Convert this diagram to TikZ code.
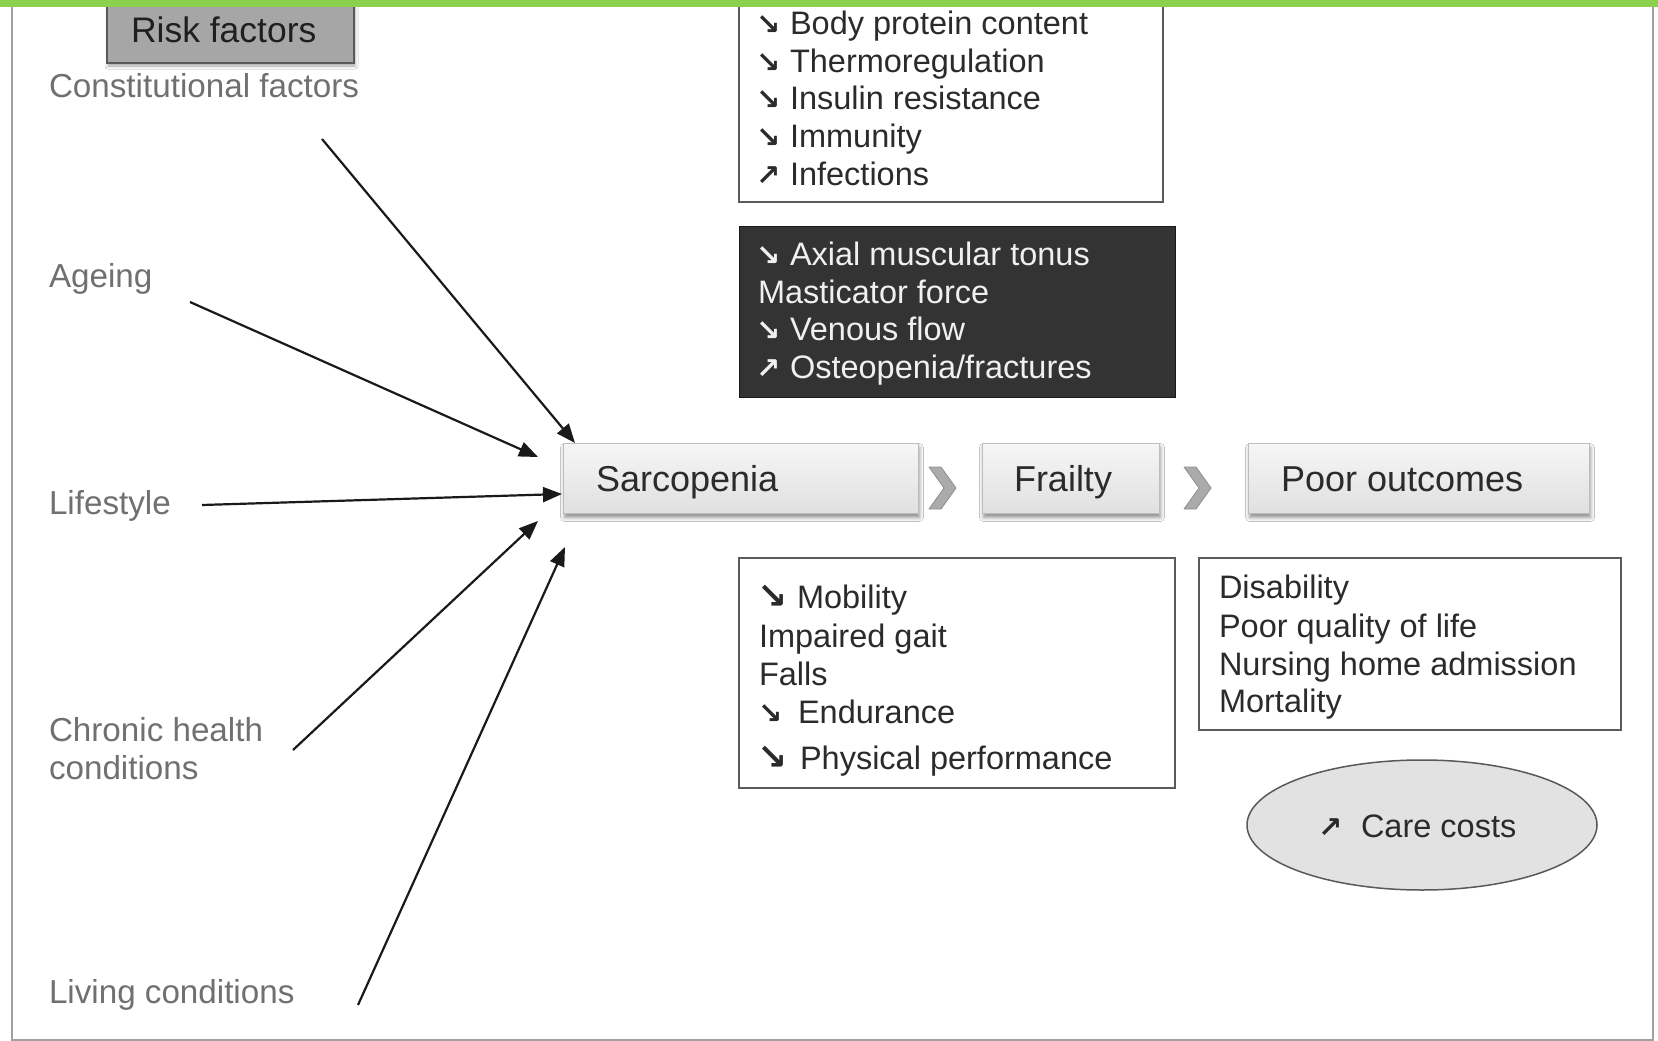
\documentclass[tikz,border=0pt]{standalone}
\usepackage{fontspec}
\setmainfont{Liberation Sans}
\newfontfamily\arrfont{DejaVu Sans}
\usetikzlibrary{arrows.meta,shadows,shadows.blur,shapes.geometric}
\definecolor{greenbar}{HTML}{8BD14E}
\definecolor{framec}{HTML}{A0A0A0}
\definecolor{lblgray}{HTML}{707070}
\definecolor{txtdark}{HTML}{2B2B2B}
\definecolor{boxtop}{HTML}{F6F6F6}
\definecolor{boxbot}{HTML}{E0E0E0}
\definecolor{boxedge}{HTML}{BDBDBD}
\definecolor{listedge}{HTML}{5A5A5A}
\definecolor{darkfill}{HTML}{333333}
\definecolor{riskfill}{HTML}{A6A6A6}
\definecolor{chevfill}{HTML}{ABABAB}
\definecolor{chevedge}{HTML}{8E8E8E}
\definecolor{arrowc}{HTML}{1A1A1A}
\definecolor{carefill}{HTML}{E2E2E2}
\newcommand\dnar{\makebox[34pt][l]{\arrfont\bfseries\fontsize{29}{29}\selectfont ↘}}
\newcommand\upar{\makebox[34pt][l]{\arrfont\bfseries\fontsize{29}{29}\selectfont ↗}}
\newcommand\dnthin{\makebox[40pt][l]{\arrfont\bfseries\fontsize{29}{29}\selectfont ↘}}
\newcommand\dnbold{\makebox[40pt][l]{\arrfont\bfseries\fontsize{36}{36}\selectfont ↘}}
\newcommand\dnboldb{\makebox[43pt][l]{\arrfont\bfseries\fontsize{36}{36}\selectfont ↘}}
\newcommand\upcare{\makebox[43pt][l]{\arrfont\bfseries\fontsize{29}{29}\selectfont ↗}}
\begin{document}
\begin{tikzpicture}[x=1pt,y=-1pt,
  every node/.style={inner sep=0pt, outer sep=0pt},
  lbl/.style={anchor=base west, font=\fontsize{33.2}{37.5}\selectfont, text=lblgray},
  txt/.style={anchor=base west, font=\fontsize{32.5}{37.5}\selectfont, text=txtdark},
  wtxt/.style={txt, text=white!94!black},
  bigtxt/.style={anchor=base west, font=\fontsize{36}{40}\selectfont, text=txtdark},
  mainbox/.style={draw=boxedge, line width=1pt, top color=boxtop, bottom color=boxbot,
    blur shadow={shadow xshift=1.5pt, shadow yshift=-4pt, shadow blur radius=4pt, shadow opacity=45}},
  listbox/.style={draw=listedge, line width=1.8pt, fill=white},
  factor/.style={-{Triangle[length=19pt,width=15pt]}, line width=2.2pt, draw=arrowc},
  chev/.style={fill=chevfill, draw=chevedge, line width=0.8pt, line join=round},
  framel/.style={draw=framec, line width=1.5pt}
]
\useasboundingbox (0,0) rectangle (1658,1041);
\fill[white] (0,0) rectangle (1658,1041);

% frame
\draw[framel] (12,7) -- (12,1040) -- (1653,1040) -- (1653,7);

% risk factors header
\node[draw=listedge, line width=1.5pt, fill=riskfill, minimum width=247pt, minimum height=70pt,
  blur shadow={shadow xshift=1pt, shadow yshift=-3pt, shadow blur radius=3pt, shadow opacity=35}]
  (risk) at (230.5,28) {};
\node[anchor=base west, font=\fontsize{35.5}{40}\selectfont, text=black!88] (risktxt) at (131,43) {Risk factors};

% left labels
\node[lbl] (constit) at (49,98) {Constitutional factors};
\node[lbl] (ageing) at (49,287) {Ageing};
\node[lbl] (lifestyle) at (49,514) {Lifestyle};
\node[lbl] (chronic1) at (49,741) {Chronic health};
\node[lbl] (chronic2) at (49,779) {conditions};
\node[lbl] (living) at (49,1003) {Living conditions};

% top list box
\node[listbox, minimum width=424pt, minimum height=210pt] (topbox) at (951,97) {};
\node[txt] (tb1) at (756,35) {\dnar Body protein content};
\node[txt] (tb2) at (756,73) {\dnar Thermoregulation};
\node[txt] (tb3) at (756,110) {\dnar Insulin resistance};
\node[txt] (tb4) at (756,147) {\dnar Immunity};
\node[txt] (tb5) at (756,185) {\upar Infections};

% dark box
\node[draw=black!90, line width=1pt, fill=darkfill, minimum width=436pt, minimum height=171pt] (darkbox) at (957,311.5) {};
\node[wtxt] (db1) at (756,265) {\dnar Axial muscular tonus};
\node[wtxt] (db2) at (758,303) {Masticator force};
\node[wtxt] (db3) at (756,340) {\dnar Venous flow};
\node[wtxt] (db4) at (756,378) {\upar Osteopenia/fractures};

% main chain
\node[mainbox, minimum width=355pt, minimum height=70pt] (sarc) at (740.5,478.5) {};
\node[bigtxt] (sarctxt) at (596,491) {Sarcopenia};
\node[mainbox, minimum width=177pt, minimum height=70pt] (frail) at (1070.5,478.5) {};
\node[bigtxt] (frailtxt) at (1014,491) {Frailty};
\node[mainbox, minimum width=341pt, minimum height=70pt] (poor) at (1418.5,478.5) {};
\node[bigtxt] (poortxt) at (1281,491) {Poor outcomes};

% chevrons
\coordinate (ch1) at (942,488);
\coordinate (ch2) at (1197,488);
\foreach \c in {ch1,ch2}
  \filldraw[chev] (\c) ++(-13,-21) -- ++(12,0) -- ++(15,21) -- ++(-15,21) -- ++(-12,0) -- ++(15,-21) -- cycle;

% mobility box
\node[listbox, minimum width=436pt, minimum height=230pt] (mobbox) at (957,673) {};
\node[txt] (mb1) at (757,608) {\dnbold Mobility};
\node[txt] (mb2) at (759,647) {Impaired gait};
\node[txt] (mb3) at (759,685) {Falls};
\node[txt] (mb4) at (758,723) {\dnthin Endurance};
\node[txt] (mb5) at (757,769) {\dnboldb Physical performance};

% outcomes box
\node[listbox, minimum width=422pt, minimum height=172pt] (outbox) at (1410,644) {};
\node[txt] (ob1) at (1219,598) {Disability};
\node[txt] (ob2) at (1219,637) {Poor quality of life};
\node[txt] (ob3) at (1219,675) {Nursing home admission};
\node[txt] (ob4) at (1219,712) {Mortality};

% care costs
\node[ellipse, draw=black!65, line width=1.5pt, fill=carefill, minimum width=350pt, minimum height=130pt] (care) at (1422,825) {};
\node[txt] (caretxt) at (1318,837) {\upcare Care costs};

% risk factor arrows
\coordinate (s1) at (322,139);  \coordinate (e1) at (575,443);
\coordinate (s2) at (190,302);  \coordinate (e2) at (538,457);
\coordinate (s3) at (202,505);  \coordinate (e3) at (562,494);
\coordinate (s4) at (293,750);  \coordinate (e4) at (538,521);
\coordinate (s5) at (358,1005); \coordinate (e5) at (565,547);
\foreach \i in {1,...,5} \draw[factor] (s\i) -- (e\i);

% green bar
\fill[greenbar] (0,0) rectangle (1658,7);
\end{tikzpicture}
\end{document}
